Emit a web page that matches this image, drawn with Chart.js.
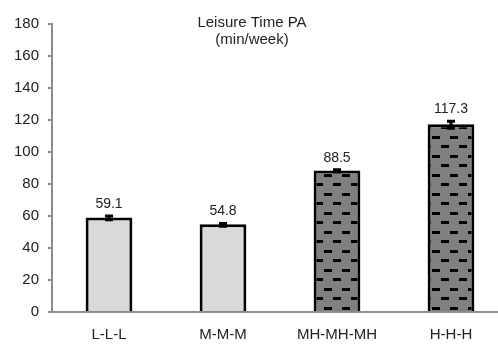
<!DOCTYPE html>
<html>
<head>
<meta charset="utf-8">
<script src="https://cdn.jsdelivr.net/npm/chart.js@4"></script>
<style>
  html, body { margin: 0; padding: 0; background: #fff; overflow: hidden; }
  #wrap { width: 512px; height: 345px; }
</style>
</head>
<body>
<div id="wrap"><canvas id="grafiek"></canvas></div>
<script>
const groepen = ["L-L-L", "M-M-M", "MH-MH-MH", "H-H-H"];
const waarden = [59.1, 54.8, 88.5, 117.3];
const fouten = [1.5, 1.2, 1.0, 2.5];
const titelRegels = ["Leisure Time PA", "(min/week)"];
const yTicks = [0, 20, 40, 60, 80, 100, 120, 140, 160, 180];

const lettertype = "'Liberation Sans', Arial, sans-serif";

// streepjespatroon voor de donkere balken
function maakPatroon() {
    const c = document.createElement("canvas");
    c.width = 18;
    c.height = 19;
    const ctx = c.getContext("2d");
    ctx.fillStyle = "#808080";
    ctx.fillRect(0, 0, 18, 19);
    ctx.fillStyle = "#000";
    ctx.fillRect(0, 3, 8, 3);
    ctx.fillRect(9, 12, 8, 3);
    return ctx.createPattern(c, "repeat");
}

const patroon = maakPatroon();
const vulling = ["#d9d9d9", "#d9d9d9", patroon, patroon];

const extras = {
    id: "extras",
    afterDatasetsDraw(chart) {
        const ctx = chart.ctx;
        const y = chart.scales.y;
        const meta = chart.getDatasetMeta(0);
        ctx.save();
        meta.data.forEach((bar, i) => {
            const x = bar.x;
            const boven = y.getPixelForValue(waarden[i] + fouten[i]);
            const onder = y.getPixelForValue(waarden[i] - fouten[i]);
            ctx.strokeStyle = "#000";
            ctx.lineWidth = 3;
            ctx.beginPath();
            ctx.moveTo(x, boven); ctx.lineTo(x, onder);
            ctx.moveTo(x - 4, boven + 1); ctx.lineTo(x + 4, boven + 1);
            ctx.moveTo(x - 4, onder); ctx.lineTo(x + 4, onder);
            ctx.stroke();

            ctx.fillStyle = "#222";
            ctx.font = "14px " + lettertype;
            ctx.textAlign = "center";
            ctx.textBaseline = "alphabetic";
            ctx.fillText(waarden[i].toFixed(1), x, boven - 7);
        });

        ctx.fillStyle = "#222";
        ctx.font = "15px " + lettertype;
        ctx.textAlign = "center";
        ctx.fillText(titelRegels[0], 252, 27);
        ctx.fillText(titelRegels[1], 252, 44);
        ctx.restore();
    }
};

new Chart(document.getElementById("grafiek"), {
    type: "bar",
    data: {
        labels: groepen,
        datasets: [{
            data: waarden,
            backgroundColor: vulling,
            borderColor: "#000",
            borderWidth: 3,
            borderSkipped: "start",
            barPercentage: 0.41,
            categoryPercentage: 1.0,
        }]
    },
    options: {
        responsive: true,
        maintainAspectRatio: false,
        animation: false,
        events: [],
        layout: {
            padding: { top: 24, right: 4, bottom: 0, left: 0 }
        },
        plugins: {
            legend: { display: false },
            title: { display: false },
            tooltip: { enabled: false },
        },
        scales: {
            x: {
                grid: { display: false },
                border: { color: "#8c8c8c", width: 2 },
                ticks: {
                    color: "#222",
                    font: { family: lettertype, size: 15 },
                    padding: 6,
                },
                afterFit(scale) { scale.height = 33; },
            },
            y: {
                min: 0,
                max: 180,
                afterBuildTicks(scale) {
                    scale.ticks = yTicks.map(v => ({ value: v }));
                },
                grid: {
                    drawOnChartArea: false,
                    drawTicks: true,
                    tickLength: 4,
                    color: "#8c8c8c",
                    lineWidth: 2,
                },
                border: { color: "#8c8c8c", width: 2 },
                ticks: {
                    color: "#222",
                    font: { family: lettertype, size: 15 },
                    padding: 9,
                },
                afterFit(scale) { scale.width = 52; },
            },
        },
    },
    plugins: [extras],
});
</script>
</body>
</html>
